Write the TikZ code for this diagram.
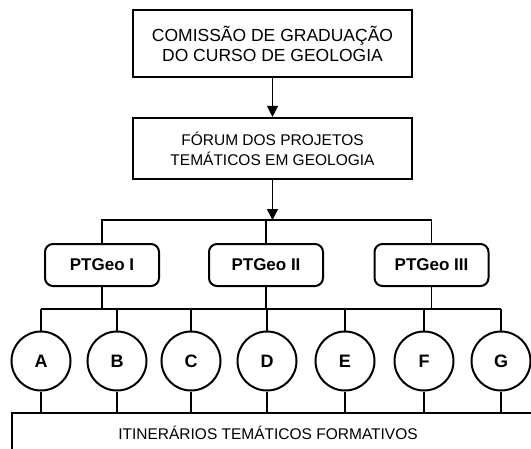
\documentclass[tikz,border=0pt]{standalone}
\usepackage{fontspec}
\setmainfont{Liberation Sans}
\usetikzlibrary{arrows.meta}

\begin{document}
\begin{tikzpicture}[x=1pt, y=-1pt, line width=1.4pt,
    box/.style={draw, line width=2.2pt, minimum width=279pt, align=center},
    ptbox/.style={draw, line width=2pt, rounded corners=8pt, minimum width=114pt,
      minimum height=42pt, font=\fontsize{17}{20}\selectfont\bfseries},
    letter/.style={draw, circle, line width=2pt, minimum size=59pt, inner sep=0pt,
      font=\fontsize{18}{20}\selectfont\bfseries},
    arrow/.style={-{Triangle[length=11pt,width=11pt]}}]

    % Fix the size of the page.
    \useasboundingbox (0, 0) rectangle (531, 448);

    % Coordinates for the two bus lines and the top of the last box.
    \coordinate (bus1)    at (0, 220);
    \coordinate (bus2)    at (0, 309);
    \coordinate (itintop) at (0, 413);

    % The two boxes on top.
    \node[box, minimum height=67pt, font=\fontsize{17.5}{20}\selectfont] (comissao) at (272.5, 43.5)
        {COMISSÃO DE GRADUAÇÃO\\DO CURSO DE GEOLOGIA};
    \node[box, minimum height=61pt, font=\fontsize{15.5}{20}\selectfont] (forum) at (272.5, 148.5)
        {FÓRUM DOS PROJETOS\\TEMÁTICOS EM GEOLOGIA};

    % The three projects.
    \node[ptbox] (pt1) at (102, 265) {PTGeo I};
    \node[ptbox] (pt2) at (266, 265) {PTGeo II};
    \node[ptbox] (pt3) at (431.5, 265) {PTGeo III};

    % The seven circles.
    \node[letter] (A) at ( 41, 361) {A};
    \node[letter] (B) at (117, 361) {B};
    \node[letter] (C) at (191, 361) {C};
    \node[letter] (D) at (267, 361) {D};
    \node[letter] (E) at (345, 361) {E};
    \node[letter] (F) at (424, 361) {F};
    \node[letter] (G) at (501, 361) {G};

    % Last box, it runs past the page.
    \draw[line width=2.2pt] (12, 413) rectangle (560, 480);
    \node[font=\fontsize{15.5}{20}\selectfont] (itin) at (268, 433)
        {ITINERÁRIOS TEMÁTICOS FORMATIVOS};

    % Arrows between the top boxes.
    \draw[arrow] (comissao) -- (forum);
    \draw[arrow] (forum) -- (forum |- bus1);

    % Upper bus line.
    \draw (pt1.north) -- (pt1.north |- bus1) -- (pt3.north |- bus1) -- (pt3.north);
    \draw (pt2.north) -- (pt2.north |- bus1);

    % Lower bus line.
    \draw (A |- bus2) -- (G |- bus2);
    \draw (pt1.south) -- (pt1.south |- bus2);
    \draw (pt2.south) -- (pt2.south |- bus2);
    \draw (pt3.south) -- (pt3.south |- bus2);

    % Circles to the bus and to the last box.
    \foreach \c in {A, B, C, D, E, F, G} {
        \draw (\c.north) -- (\c |- bus2);
        \draw (\c.south) -- (\c |- itintop);
    }
\end{tikzpicture}
\end{document}
